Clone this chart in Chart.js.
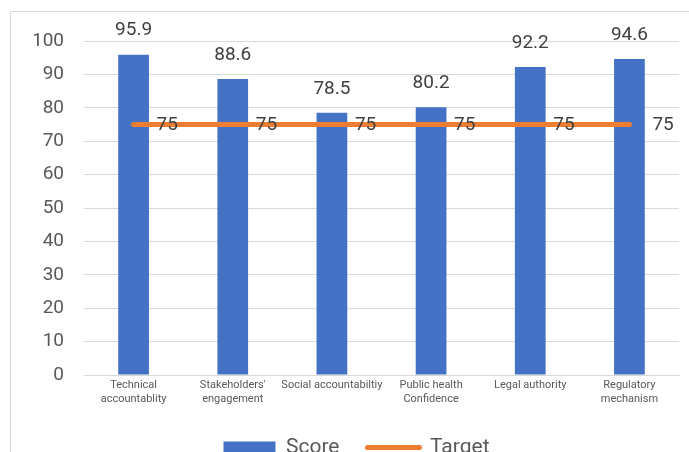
<!DOCTYPE html>
<html>
<head>
<meta charset="utf-8">
<script src="https://cdn.jsdelivr.net/npm/chart.js@4"></script>
<style>
  html, body { margin: 0; padding: 0; background: #fff; overflow: hidden; }
  body { width: 689px; height: 452px; position: relative; }
  #frame { position: absolute; left: 10px; top: 11px; width: 720px; height: 520px; border: 1.5px solid #d9d9d9; }
  #wrap { position: absolute; left: 0; top: 0; width: 689px; height: 468px; }
</style>
</head>
<body>
<div id="frame"></div>
<div id="wrap"><canvas id="chart" width="689" height="468"></canvas></div>
<script>
/* categories and values */
const categories = [
  ["Technical", "accountablity"],
  ["Stakeholders'", "engagement"],
  "Social accountabiltiy",
  ["Public health", "Confidence"],
  "Legal authority",
  ["Regulatory", "mechanism"]
];
const scoreValues = [95.9, 88.6, 78.5, 80.2, 92.2, 94.6];
const targetValues = [75, 75, 75, 75, 75, 75];
const yTicks = [0, 10, 20, 30, 40, 50, 60, 70, 80, 90, 100];

const blue = '#4472C4';
const orange = '#ED7D31';
const textGrey = '#595959';

// value labels: above the bars, right of the target points
const valueLabels = {
  id: 'valueLabels',
  afterDatasetsDraw(chart) {
    const ctx = chart.ctx;
    ctx.save();
    ctx.font = '19px Roboto';
    ctx.fillStyle = '#404040';
    chart.getDatasetMeta(0).data.forEach((bar, i) => {
      ctx.textAlign = 'center';
      ctx.textBaseline = 'middle';
      ctx.fillText(scoreValues[i].toFixed(1), bar.x, bar.y - 24);
    });
    chart.getDatasetMeta(1).data.forEach((pt, i) => {
      ctx.textAlign = 'left';
      ctx.textBaseline = 'middle';
      ctx.fillText(String(targetValues[i]), pt.x + 23, pt.y + 1);
    });
    ctx.restore();
  }
};

new Chart(document.getElementById('chart'), {
  data: {
    labels: categories,
    datasets: [{
      type: 'bar',
      label: 'Score',
      data: scoreValues,
      backgroundColor: blue,
      categoryPercentage: 1,
      barPercentage: 0.31,
      order: 2
    }, {
      type: 'line',
      label: 'Target',
      data: targetValues,
      borderColor: orange,
      backgroundColor: orange,
      borderWidth: 5,
      borderCapStyle: 'round',
      pointRadius: 0,
      pointHoverRadius: 0,
      order: 1
    }]
  },
  options: {
    responsive: false,
    animation: false,
    layout: { padding: { left: 34, right: 10, top: 41, bottom: 0 } },
    scales: {
      x: {
        grid: { display: false, drawTicks: false },
        border: { color: '#d9d9d9', width: 1 },
        ticks: {
          color: textGrey,
          font: { family: 'Roboto', size: 11 },
          padding: 4,
          maxRotation: 0,
          autoSkip: false
        },
        afterFit(scale) { scale.height = 34; }
      },
      y: {
        min: 0,
        max: 100,
        afterBuildTicks(scale) { scale.ticks = yTicks.map(v => ({ value: v })); },
        grid: { color: '#d9d9d9', drawTicks: false },
        border: { display: false },
        ticks: {
          color: textGrey,
          font: { family: 'Roboto', size: 19 },
          padding: 20
        },
        afterFit(scale) { scale.width = 50; }
      }
    },
    plugins: {
      legend: {
        position: 'bottom',
        labels: {
          color: textGrey,
          font: { family: 'Roboto', size: 21 },
          usePointStyle: true,
          boxHeight: 12,
          pointStyleWidth: 52,
          padding: 28,
          generateLabels() {
            return [
              { text: 'Score', fillStyle: blue, strokeStyle: blue, lineWidth: 0, pointStyle: 'rect', fontColor: textGrey },
              { text: 'Target', fillStyle: orange, strokeStyle: orange, lineWidth: 5, lineCap: 'round', pointStyle: 'line', fontColor: textGrey }
            ];
          }
        }
      },
      tooltip: { enabled: false }
    }
  },
  plugins: [valueLabels]
});
</script>
</body>
</html>
